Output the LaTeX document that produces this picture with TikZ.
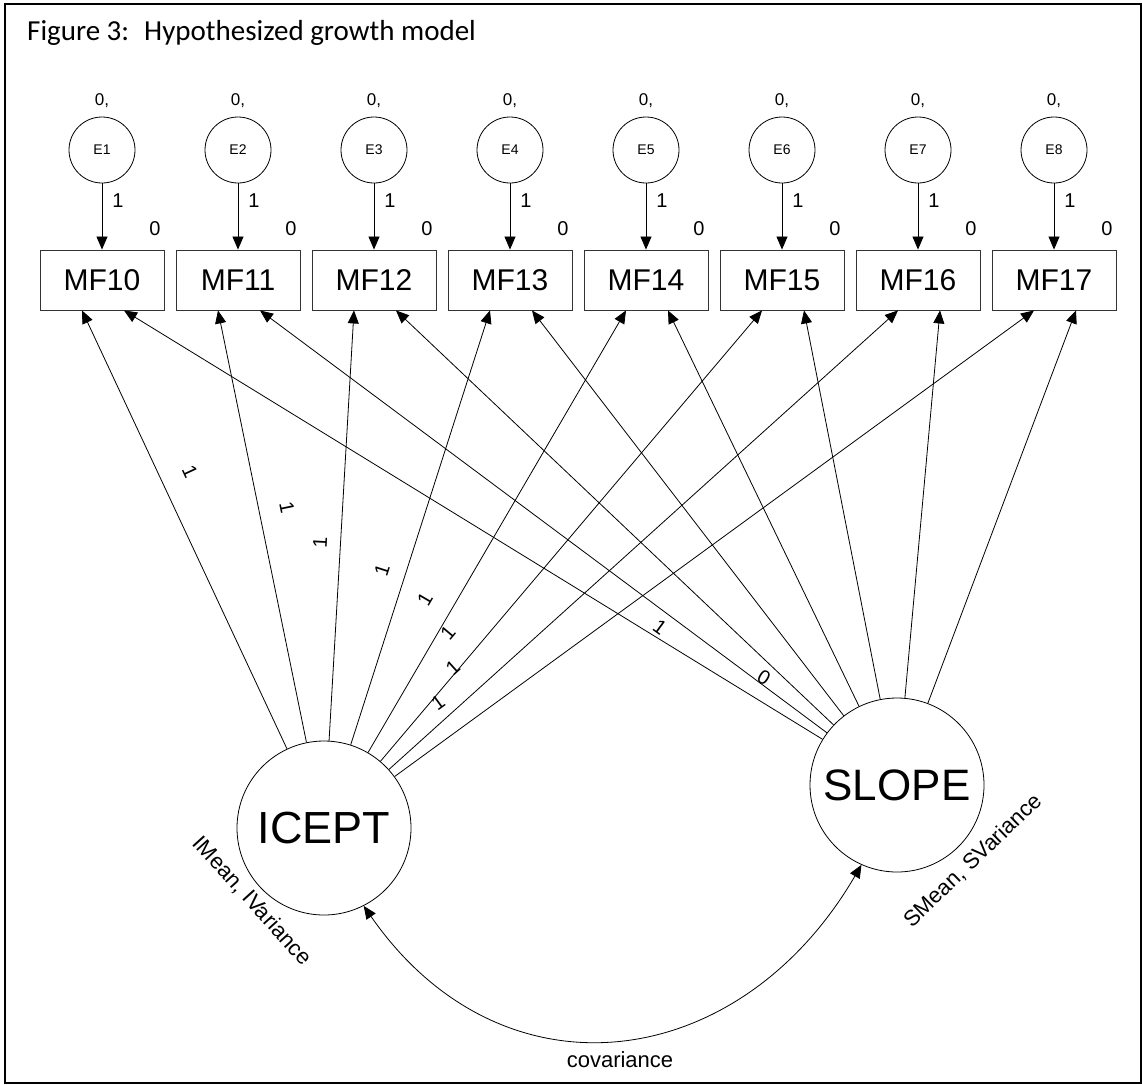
\documentclass[tikz,border=0pt]{standalone}
\usepackage{fontspec}
\setmainfont{Liberation Sans}
\newfontfamily\titlefont{Carlito}
\usetikzlibrary{arrows.meta}
\begin{document}
\begin{tikzpicture}[x=1pt,y=1pt,
  arr/.style={-{Triangle[length=13pt,width=11pt]}, line width=0.8pt},
  dblarr/.style={{Triangle[length=13pt,width=11pt]}-{Triangle[length=13pt,width=11pt]}, line width=0.8pt},
  box/.style={draw, line width=0.9pt, draw=black!80, minimum width=124pt, minimum height=60pt, inner sep=0pt, font=\fontsize{30}{36}\selectfont},
  err/.style={draw, circle, line width=0.8pt, minimum size=66pt, inner sep=0pt, font=\fontsize{14}{17}\selectfont},
  lat/.style={draw, circle, line width=0.8pt, minimum size=174pt, inner sep=0pt},
  lbl/.style={inner sep=0pt, font=\fontsize{20}{24}\selectfont},
  lblsmall/.style={inner sep=0pt, font=\fontsize{17}{20}\selectfont},
  lblbig/.style={inner sep=0pt, font=\fontsize{22}{26}\selectfont}]
\useasboundingbox (0,0) rectangle (1142,-1084);
\draw[line width=2pt] (5,-4) rectangle (1141,-1083);
\node[anchor=base west, inner sep=0pt, font=\titlefont\fontsize{29}{34}\selectfont] (title) at (27,-40) {Figure 3:\hspace{15pt}Hypothesized growth model};

\foreach \i in {0,...,7}{
  \pgfmathsetmacro\x{102+136*\i}
  \pgfmathtruncatemacro\j{\i+1}
  \node[box] (mf\i) at (\x,-280) {MF1\i};
  \node[err] (e\i) at (\x,-150) {E\j};
  \node[lblsmall] (var\i) at (\x,-101) {0,};
  \draw[arr] (e\i) -- (mf\i.north);
  \node[lbl] (one\i) at (\x+16,-201) {1};
  \node[lbl] (int\i) at (\x+53,-229) {0};
}

\node[lat, font=\fontsize{45}{54}\selectfont] (icept) at (324,-828) {ICEPT};
\node[lat, font=\fontsize{44}{53}\selectfont] (slope) at (897,-785) {SLOPE};

\foreach \i in {0,...,7}{
  \draw[arr] (icept) -- ([xshift=-20pt]mf\i.south);
  \draw[arr] (slope) -- ([xshift=22pt]mf\i.south);
}

% loadings on ICEPT paths
\node[lbl, rotate=-65]   (li0) at (190,-472) {1};
\node[lbl, rotate=-78.4] (li1) at (287,-508) {1};
\node[lbl, rotate=86.7]  (li2) at (320,-543) {1};
\node[lbl, rotate=72.2]  (li3) at (382,-570) {1};
\node[lbl, rotate=59.8]  (li4) at (425,-599) {1};
\node[lbl, rotate=49.8]  (li5) at (448,-633) {1};
\node[lbl, rotate=42.1]  (li6) at (453,-668) {1};
\node[lbl, rotate=36.1]  (li7) at (438,-703) {1};
% loadings on SLOPE paths
\node[lbl, rotate=-31.6] (ls0) at (764,-678) {0};
\node[lbl, rotate=-36]   (ls1) at (660,-627) {1};

% covariance
\draw[dblarr] (icept.-63.7) .. controls (502,-1105) and (739,-1075) .. (slope.-114.8);
\node[lblbig] (cov) at (620,-1060) {covariance};

\node[lblbig, rotate=-47.8] (imean) at (252,-901) {IMean, IVariance};
\node[lblbig, rotate=44] (smean) at (973,-861) {SMean, SVariance};
\end{tikzpicture}
\end{document}
